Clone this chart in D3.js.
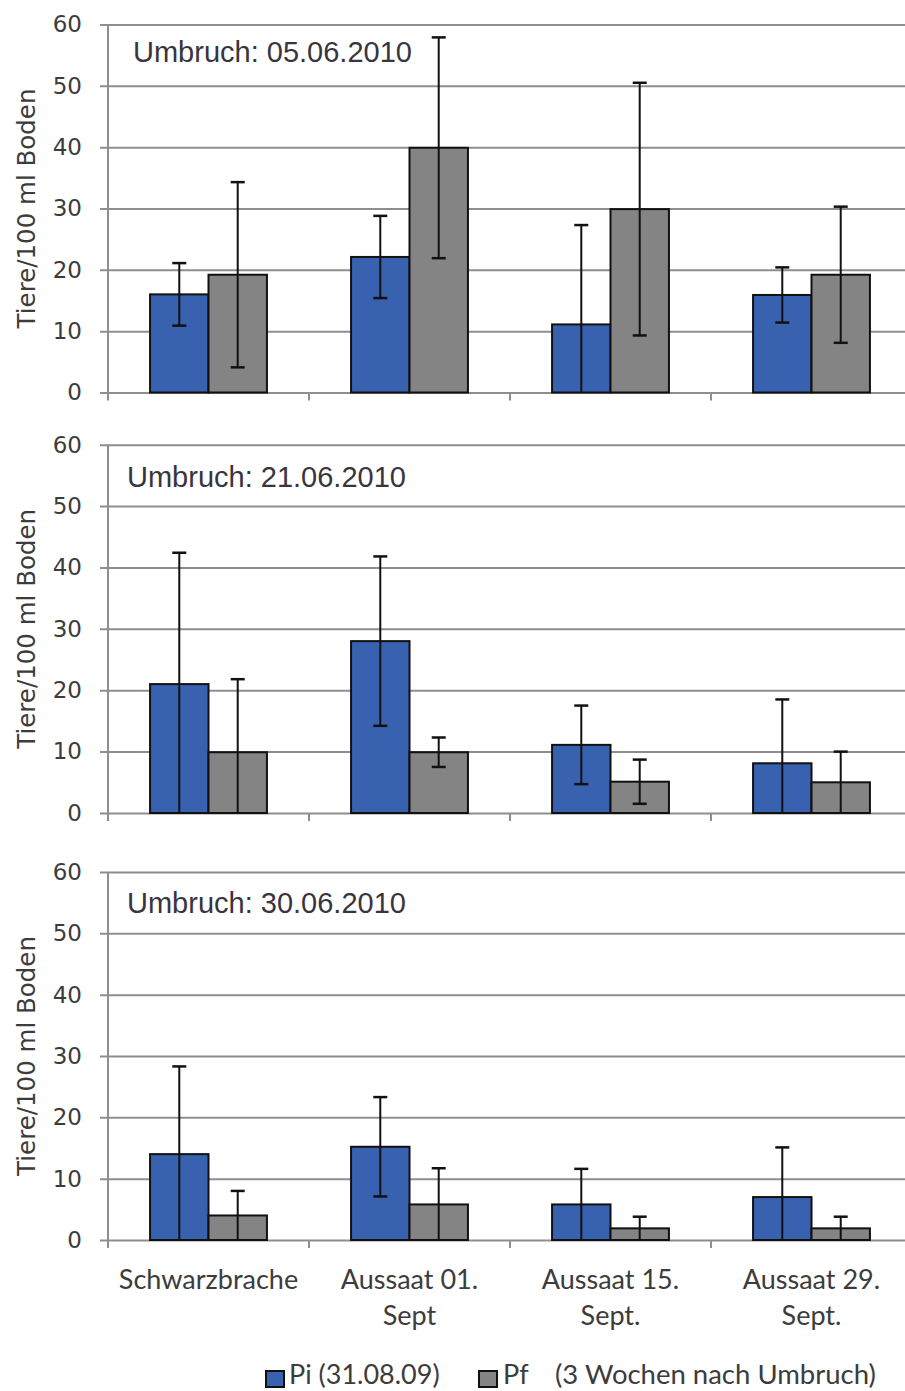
<!DOCTYPE html>
<html>
<head>
<meta charset="utf-8">
<script src="https://cdn.jsdelivr.net/npm/d3@7/dist/d3.min.js"></script>
<style>
  html, body { margin: 0; padding: 0; background: #fff; }
  svg { display: block; }
</style>
</head>
<body>
<svg id="chart" width="905" height="1391"></svg>
<script>
// ---- data -------------------------------------------------------------
const categories = ["Schwarzbrache", "Aussaat 01.|Sept", "Aussaat 15.|Sept.", "Aussaat 29.|Sept."];
const seriesNames = ["Pi (31.08.09)", "Pf"];
const legendNote = "(3 Wochen nach Umbruch)";
const panelTitles = ["Umbruch: 05.06.2010", "Umbruch: 21.06.2010", "Umbruch: 30.06.2010"];
const yTicks = [0, 10, 20, 30, 40, 50, 60];
const yLabel = "Tiere/100 ml Boden";

// mean and standard deviation per panel (rows) and category (columns)
const piMean = [[16.0, 22.1, 11.1, 15.9], [21.0, 28.0, 11.1, 8.1], [14.0, 15.2, 5.8, 7.0]];
const piSd   = [[5.1, 6.7, 16.2, 4.5],    [21.4, 13.8, 6.4, 10.4], [14.3, 8.1, 5.8, 8.1]];
const pfMean = [[19.2, 39.9, 29.9, 19.2], [9.9, 9.9, 5.1, 5.0],    [4.0, 5.8, 1.9, 1.9]];
const pfSd   = [[15.1, 18.0, 20.6, 11.1], [11.9, 2.4, 3.6, 5.0],   [4.0, 5.9, 1.9, 1.9]];

// ---- layout -----------------------------------------------------------
const W = 905, H = 1391;
const axisX = 108, plotRight = 912;          // last category runs just past the edge
const panelTop = [24.5, 444.7, 872];
const panelBottom = [392.5, 813, 1240];
const titlePos = [[133, 61.5], [127, 486.7], [127, 912.7]];
const colors = { "Pi (31.08.09)": "#3862b0", "Pf": "#848484" };
const textColor = "#3c3c3c";
const gridColor = "#8e8e8e";

const svg = d3.select("#chart");
svg.append("rect").attr("width", W).attr("height", H).attr("fill", "#fff");

const x = d3.scaleBand().domain(categories).range([axisX, plotRight]).padding(0);
const xs = d3.scaleBand().domain(seriesNames).range([0, x.bandwidth()])
  .paddingInner(0).paddingOuter(0.72);

const panelData = panelTitles.map((t, p) => ({
  title: t,
  bars: categories.flatMap((c, i) => [
    { cat: c, series: seriesNames[0], mean: piMean[p][i], sd: piSd[p][i] },
    { cat: c, series: seriesNames[1], mean: pfMean[p][i], sd: pfSd[p][i] }
  ])
}));

panelData.forEach((pd, p) => {
  const y = d3.scaleLinear().domain([0, 60]).range([panelBottom[p], panelTop[p]]);
  const g = svg.append("g");

  // gridlines + tick labels
  const yAxis = d3.axisLeft(y).tickValues(yTicks)
    .tickSizeInner(-(W - 100)).tickSizeOuter(0).tickPadding(18);
  const ga = g.append("g").attr("transform", "translate(100,0)").call(yAxis);
  ga.select(".domain").remove();
  ga.selectAll(".tick line").attr("stroke", gridColor).attr("stroke-width", 2);
  ga.selectAll(".tick text")
    .attr("fill", textColor)
    .style("font-family", "'DejaVu Sans', Verdana, sans-serif")
    .style("font-size", "23px");

  // vertical axis line
  g.append("line")
    .attr("x1", axisX).attr("x2", axisX)
    .attr("y1", y(60)).attr("y2", y(0) + 8)
    .attr("stroke", gridColor).attr("stroke-width", 2);

  // category boundary ticks
  const bounds = categories.map(c => x(c)).slice(1);
  g.selectAll(".ctick").data(bounds).enter().append("line")
    .attr("x1", d => d).attr("x2", d => d)
    .attr("y1", y(0)).attr("y2", y(0) + 8)
    .attr("stroke", gridColor).attr("stroke-width", 2);

  // bars
  g.selectAll(".bar").data(pd.bars).enter().append("rect")
    .attr("x", d => x(d.cat) + xs(d.series))
    .attr("y", d => y(d.mean))
    .attr("width", xs.bandwidth())
    .attr("height", d => y(0) - y(d.mean))
    .attr("fill", d => colors[d.series])
    .attr("stroke", "#111").attr("stroke-width", 2);

  // error bars (lower end clipped at zero)
  const cap = 7;
  const eb = g.selectAll(".err").data(pd.bars).enter().append("g")
    .attr("transform", d => `translate(${x(d.cat) + xs(d.series) + xs.bandwidth() / 2},0)`);
  eb.append("line")
    .attr("y1", d => y(Math.max(0, d.mean - d.sd)))
    .attr("y2", d => y(d.mean + d.sd))
    .attr("stroke", "#111").attr("stroke-width", 2);
  eb.append("line")
    .attr("x1", -cap).attr("x2", cap)
    .attr("y1", d => y(d.mean + d.sd)).attr("y2", d => y(d.mean + d.sd))
    .attr("stroke", "#111").attr("stroke-width", 2.5);
  eb.filter(d => d.mean - d.sd > 0).append("line")
    .attr("x1", -cap).attr("x2", cap)
    .attr("y1", d => y(d.mean - d.sd)).attr("y2", d => y(d.mean - d.sd))
    .attr("stroke", "#111").attr("stroke-width", 2.5);

  // panel title
  g.append("text")
    .attr("x", titlePos[p][0]).attr("y", titlePos[p][1])
    .attr("fill", "#3a3440")
    .style("font-family", "'Liberation Sans', Arial, sans-serif")
    .style("font-size", "29px")
    .text(pd.title);

  // y axis title
  g.append("text")
    .attr("transform", `translate(35,${(y(0) + y(60)) / 2}) rotate(-90)`)
    .attr("text-anchor", "middle")
    .attr("fill", textColor)
    .style("font-family", "'DejaVu Sans', Verdana, sans-serif")
    .style("font-size", "24.5px")
    .text(yLabel);
});

// category labels below the last panel
const catLabels = svg.append("g").selectAll("text").data(categories).enter().append("text")
  .attr("text-anchor", "middle")
  .attr("fill", textColor)
  .style("font-family", "Lato, 'Open Sans', sans-serif")
  .style("font-size", "27px");
catLabels.each(function (d) {
  const t = d3.select(this);
  d.split("|").forEach((line, i) => {
    t.append("tspan")
      .attr("x", x(d) + x.bandwidth() / 2)
      .attr("y", 1289 + i * 36)
      .text(line);
  });
});

// legend
const legend = svg.append("g").attr("transform", "translate(0,1384)");
const legendItems = [
  { name: seriesNames[0], sx: 265, tx: 289 },
  { name: seriesNames[1], sx: 478, tx: 503 }
];
legendItems.forEach(it => {
  legend.append("rect")
    .attr("x", it.sx + 1).attr("y", -13).attr("width", 18).attr("height", 16)
    .attr("fill", colors[it.name]).attr("stroke", "#111").attr("stroke-width", 2);
  legend.append("text")
    .attr("x", it.tx).attr("y", 0)
    .attr("fill", textColor)
    .style("font-family", "Lato, 'Open Sans', sans-serif")
    .style("font-size", "27px")
    .text(it.name);
});
legend.append("text")
  .attr("x", 555).attr("y", 0)
  .attr("fill", textColor)
  .style("font-family", "Lato, 'Open Sans', sans-serif")
  .style("font-size", "27.5px")
  .text(legendNote);
</script>
</body>
</html>
